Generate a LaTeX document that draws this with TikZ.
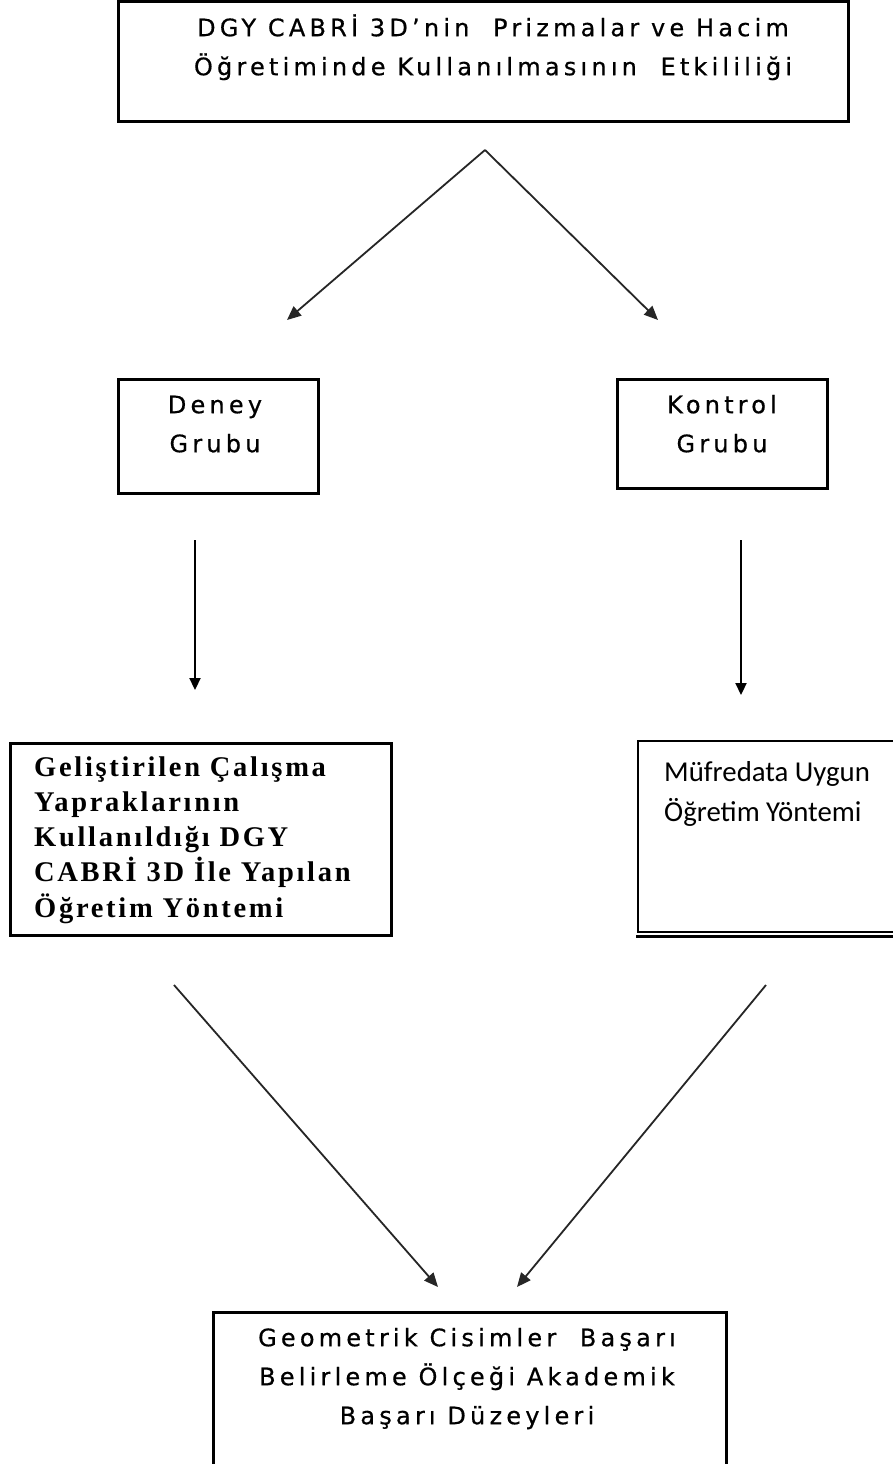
\documentclass[tikz,border=0pt]{standalone}
\usepackage{fontspec}
\usetikzlibrary{arrows.meta}
\newfontfamily\vfont[LetterSpace=17.5,FakeBold=0.6]{DejaVu Sans}
\newfontfamily\tfont[LetterSpace=9.5]{Liberation Serif}
\newfontfamily\cfont{Carlito}
\begin{document}
\begin{tikzpicture}[x=1pt,y=-1pt,
  box/.style={draw, line width=3pt, inner sep=0pt},
  thinbox/.style={draw, line width=1.4pt, inner sep=0pt},
  conn/.style={line width=1.8pt, draw=black!85, -{Triangle[length=14pt,width=12pt]}},
  vconn/.style={line width=2.2pt, draw=black, -{Triangle[length=12pt,width=11pt]}},
  vtext/.style={inner sep=0pt, align=center, anchor=north, font=\vfont\fontsize{24}{39}\selectfont},
  stext/.style={inner sep=0pt, align=left, anchor=north west, font=\tfont\bfseries\fontsize{28.5}{35.25}\selectfont},
  ctext/.style={inner sep=0pt, align=left, anchor=north west, font=\cfont\fontsize{28.8}{40}\selectfont}]
\useasboundingbox (0,0) rectangle (893,1464);
\fill[white] (0,0) rectangle (893,1464);
\clip (0,0) rectangle (893,1464);

% boxes
\node[box, minimum width=730pt, minimum height=119.5pt] (topbox) at (483,61.25) {};
\node[box, minimum width=200pt, minimum height=114pt] (deneybox) at (218,436) {};
\node[box, minimum width=210pt, minimum height=109pt] (kontrolbox) at (722,433.5) {};
\node[box, minimum width=381pt, minimum height=192pt] (leftbox) at (200.5,839) {};
\node[thinbox, minimum width=262pt, minimum height=191pt] (rightbox) at (769,836.5) {};
\draw[line width=2.6pt] (rightbox.south west) ++(-1,3.5) coordinate (rsw) -- (rsw -| rightbox.south east);
\node[box, minimum width=513pt, minimum height=170pt] (bottombox) at (469.5,1397) {};

% texts
\node[vtext] (toptext) at (493,8.7) {\strut DGY CABRİ 3D’nin\ \ Prizmalar ve Hacim\\ Öğretiminde Kullanılmasının\ \ Etkililiği};
\node[vtext] (deneytext) at (215,385.7) {\strut Deney\\ Grubu};
\node[vtext] (kontroltext) at (722,385.7) {\strut Kontrol\\ Grubu};
\node[stext] (lefttext) at (34,751.3) {\strut Geliştirilen Çalışma\\ Yapraklarının\\ Kullanıldığı DGY\\ CABRİ 3D İle Yapılan\\ Öğretim Yöntemi};
\node[ctext] (righttext) at (664,753) {\strut Müfredata Uygun\\ Öğretim Yöntemi};
\node[vtext] (bottomtext) at (467,1318.7) {\strut Geometrik Cisimler\ \ Başarı\\ Belirleme Ölçeği Akademik\\ Başarı Düzeyleri};

% connector end points
\coordinate (apex) at (485,150);
\coordinate (tipL) at (287,320);
\coordinate (tipR) at (658,320);
\coordinate (vLs) at (195,540);
\coordinate (vLe) at (195,690);
\coordinate (vRs) at (741,540);
\coordinate (vRe) at (741,695);
\coordinate (dLs) at (174,985);
\coordinate (dLe) at (438,1287);
\coordinate (dRs) at (766,985);
\coordinate (dRe) at (517,1287);

% connectors
\draw[conn] (apex) -- (tipL);
\draw[conn] (apex) -- (tipR);
\draw[vconn] (vLs) -- (vLe);
\draw[vconn] (vRs) -- (vRe);
\draw[conn] (dLs) -- (dLe);
\draw[conn] (dRs) -- (dRe);
\end{tikzpicture}
\end{document}
